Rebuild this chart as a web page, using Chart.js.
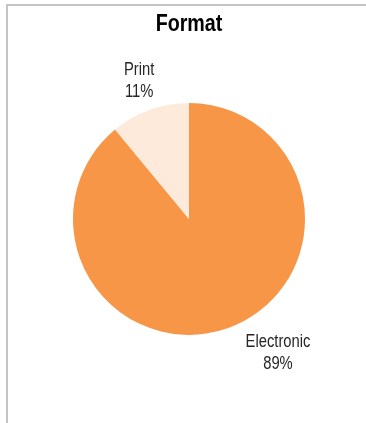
<!DOCTYPE html>
<html>
<head>
<meta charset="utf-8">
<script src="https://cdn.jsdelivr.net/npm/chart.js@4/dist/chart.umd.min.js"></script>
<style>
  html, body { margin: 0; padding: 0; background: #fff; }
  #wrap { position: relative; width: 366px; height: 423px; }
  #frame {
    position: absolute; left: 6px; top: 4px; right: 0; bottom: 0;
    border-top: 2px solid #c4c4c4; border-left: 2px solid #c4c4c4;
    pointer-events: none;
  }
</style>
</head>
<body>
<div id="wrap">
  <canvas id="chart"></canvas>
  <div id="frame"></div>
</div>
<script>
// 차트 데이터
const categories = ['Electronic', 'Print'];
const shares     = [89, 11];
const colors     = ['#F79646', '#FDEADA'];
const titleText  = 'Format';

const FONT = "'Liberation Sans', Arial, sans-serif";
const NARROW = 0.82; // Arial Narrow 느낌으로 가로 압축

// 라벨 위치 (반지름 비율, 중심 기준)
const labelSpots = {
  Electronic: [0.767, 1.16],
  Print:      [-0.43, -1.19],
};

function narrowText(c, text, x, y) {
  c.save();
  c.translate(x, y);
  c.scale(NARROW, 1);
  c.fillText(text, 0, 0);
  c.restore();
}

const pieLabels = {
  id: 'pieLabels',
  afterDraw(chart) {
    const c = chart.ctx;
    const meta = chart.getDatasetMeta(0);
    const total = shares.reduce((a, b) => a + b, 0);
    c.save();
    c.textAlign = 'center';
    c.textBaseline = 'middle';

    // 제목
    c.fillStyle = '#000';
    c.font = 'bold 24px ' + FONT;
    narrowText(c, titleText, (chart.chartArea.left + chart.chartArea.right) / 2, 24);

    // 조각 라벨
    c.fillStyle = '#262626';
    c.font = '18px ' + FONT;
    meta.data.forEach((arc, i) => {
      const { x, y, outerRadius } = arc.getProps(['x', 'y', 'outerRadius'], true);
      const [fx, fy] = labelSpots[categories[i]];
      const lx = x + fx * outerRadius;
      const ly = y + fy * outerRadius;
      narrowText(c, categories[i], lx, ly - 11);
      narrowText(c, Math.round(shares[i] / total * 100) + '%', lx, ly + 11);
    });
    c.restore();
  },
};

new Chart(document.getElementById('chart'), {
  type: 'pie',
  data: {
    labels: categories,
    datasets: [{
      data: shares,
      backgroundColor: colors,
      borderWidth: 0,
      hoverOffset: 0,
    }],
  },
  options: {
    responsive: true,
    maintainAspectRatio: false,
    animation: false,
    layout: { padding: { left: 73, right: 61, top: 48.8, bottom: 34 } },
    plugins: {
      legend: { display: false },
      tooltip: { enabled: false },
      title: { display: false },
    },
  },
  plugins: [pieLabels],
});
</script>
</body>
</html>
